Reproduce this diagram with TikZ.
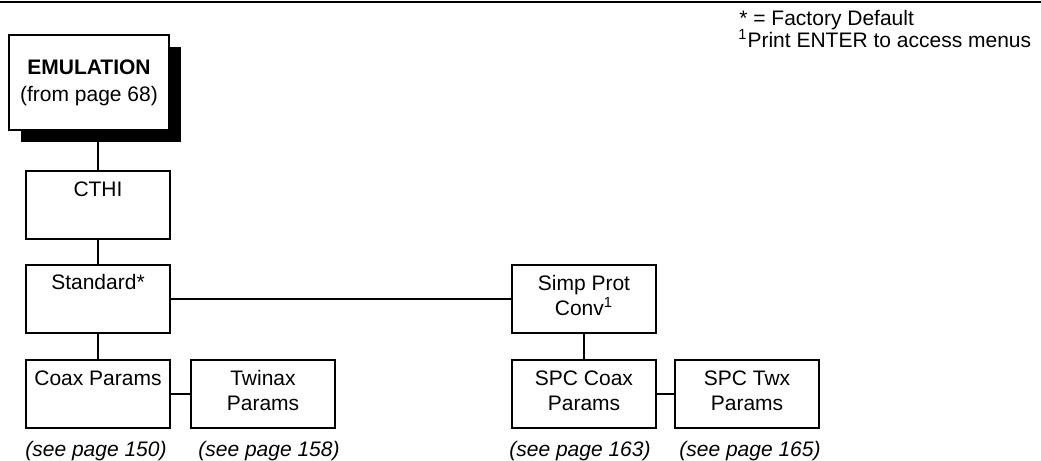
\documentclass[tikz,border=0pt]{standalone}
\usepackage{fontspec}
\setmainfont{Liberation Sans}
\usetikzlibrary{positioning,shadows}

\begin{document}
\begin{tikzpicture}[x=0.5pt,y=-0.5pt,
  menu/.style={draw,line width=1pt,fill=white,minimum width=72pt,minimum height=34pt,inner sep=0pt},
  menutext/.style={inner sep=0pt,align=center,font=\fontsize{10.5}{12.5}\selectfont},
  seepage/.style={anchor=base,inner sep=0pt,font=\fontsize{10.5}{12.5}\selectfont\itshape},
  legend/.style={anchor=base west,inner sep=0pt,font=\fontsize{10.5}{12.5}\selectfont},
  link/.style={line width=1pt}]
\useasboundingbox (0,0) rectangle (1041,461);
\draw[line width=1pt] (0,2) -- (1041,2);

\node[legend] (fdefault) at (739,25) {* = Factory Default};
\node[legend] (fenter) at (738,47.5) {\textsuperscript{1}Print ENTER to access menus};

\node[menu,minimum width=80pt,minimum height=47.5pt,align=center,
  font=\fontsize{10.5}{13.5}\selectfont,
  drop shadow={shadow xshift=5.75pt,shadow yshift=-5.75pt,opacity=1,fill=black}]
  (emul) at (89,82.5) {\textbf{EMULATION}\\(from page 68)};

\node[menu] (cthi) at (98,205) {};
\node[menu] (std) at (98,298.5) {};
\node[menu] (coax) at (98,393.5) {};
\node[menu,right=9.5pt of coax] (twin) {};
\node[menu] (simp) at (584,298.5) {};
\node[menu] (spcc) at (584,393.5) {};
\node[menu,right=8.5pt of spcc] (spct) {};

\node[menutext,below=5.75pt of cthi.north] (cthi-t) {CTHI};
\node[menutext,below=5pt of std.north] (std-t) {Standard*};
\node[menutext,below=5.75pt of coax.north] (coax-t) {Coax Params};
\node[menutext,below=5.75pt of twin.north] (twin-t) {Twinax\\Params};
\node[menutext,below=5.5pt of simp.north] (simp-t) {Simp Prot\\Conv\textsuperscript{1}};
\node[menutext,below=5.75pt of spcc.north] (spcc-t) {SPC Coax\\Params};
\node[menutext,below=5.75pt of spct.north] (spct-t) {SPC Twx\\Params};

\draw[link] (emul.south -| cthi.north) -- (cthi.north);
\draw[link] (cthi) -- (std);
\draw[link] (std) -- (coax);
\draw[link] (std) -- (simp);
\draw[link] (simp) -- (spcc);
\draw[link] (coax) -- (twin);
\draw[link] (spcc) -- (spct);

\node[seepage] (see150) at (96,456.5) {(see page 150)};
\node[seepage] (see158) at (269,456.5) {(see page 158)};
\node[seepage] (see163) at (580,456.5) {(see page 163)};
\node[seepage] (see165) at (750,456.5) {(see page 165)};
\end{tikzpicture}
\end{document}
